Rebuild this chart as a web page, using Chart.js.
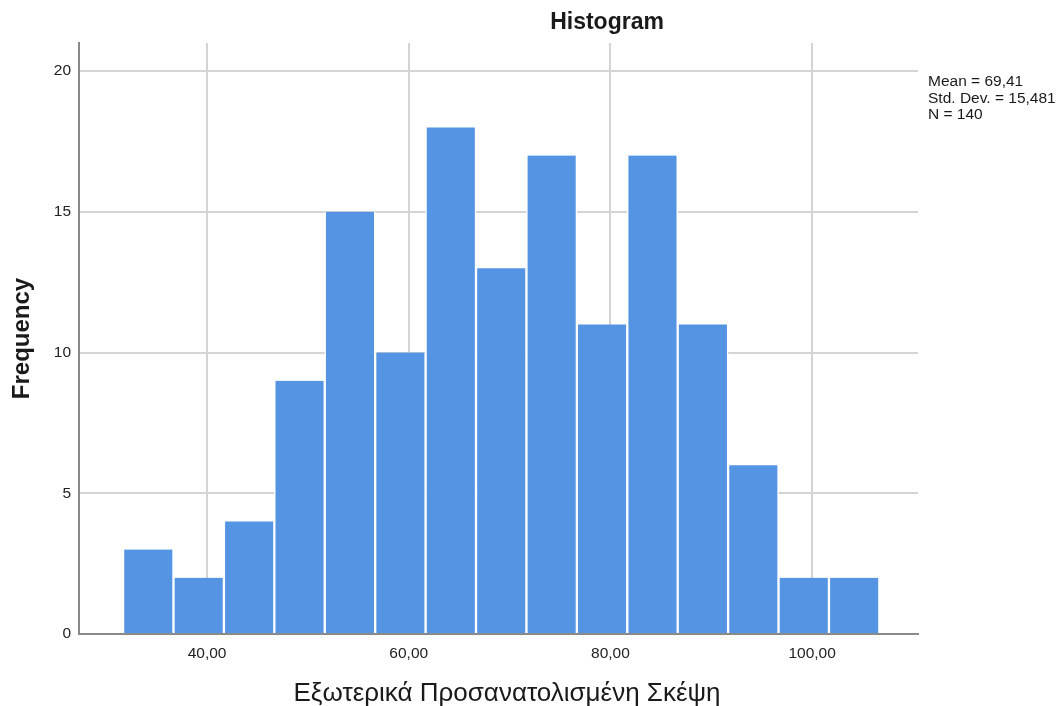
<!DOCTYPE html>
<html>
<head>
<meta charset="utf-8">
<script src="https://cdn.jsdelivr.net/npm/chart.js"></script>
<style>
  body { margin: 0; background: #ffffff; }
</style>
</head>
<body>
<canvas id="histChart" width="1059" height="706"></canvas>
<script>
// Histogram data (bin centres, bin width 5)
const binCenters = [34.17, 39.17, 44.17, 49.17, 54.17, 59.17, 64.17, 69.17, 74.17, 79.17, 84.17, 89.17, 94.17, 99.17, 104.17];
const frequencies = [3, 2, 4, 9, 15, 10, 18, 13, 17, 11, 17, 11, 6, 2, 2];
const xTicks = [40, 60, 80, 100];
const yTicks = [0, 5, 10, 15, 20];
const statsLines = ["Mean = 69,41", "Std. Dev. = 15,481", "N = 140"];
const xTitle = "Εξωτερικά Προσανατολισμένη Σκέψη";

const fontFamily = "'Liberation Sans', Arial, sans-serif";

// title, x title and stats box, placed like SPSS does
const spssText = {
  id: "spssText",
  afterDraw(chart) {
    const c = chart.ctx;
    c.save();
    c.fillStyle = "#1a1a1a";
    c.textAlign = "center";
    c.textBaseline = "middle";
    c.font = "bold 23px " + fontFamily;
    c.fillText("Histogram", 607, 23);
    c.font = "26px " + fontFamily;
    c.fillText(xTitle, 507, 694);
    c.textAlign = "left";
    c.font = "15.5px " + fontFamily;
    for (let i = 0; i < statsLines.length; i++) {
      c.fillText(statsLines[i], 928, 82 + i * 16.5);
    }
    c.restore();
  },
};

new Chart(document.getElementById("histChart"), {
  type: "bar",
  data: {
    datasets: [
      {
        data: binCenters.map((x, i) => ({ x: x, y: frequencies[i] })),
        backgroundColor: "#5494e3",
        borderColor: "#ffffff",
        borderWidth: { left: 1.5, right: 1.5, top: 0, bottom: 0 },
        borderSkipped: false,
        barPercentage: 1,
        categoryPercentage: 1,
      },
    ],
  },
  options: {
    responsive: false,
    animation: false,
    layout: {
      padding: { top: 43, right: 141, left: 0, bottom: 0 },
    },
    plugins: {
      legend: { display: false },
      tooltip: { enabled: false },
    },
    scales: {
      x: {
        type: "linear",
        offset: false,
        min: 27.3,
        max: 110.5,
        afterBuildTicks: (scale) => {
          scale.ticks = xTicks.map((v) => ({ value: v }));
        },
        afterFit: (scale) => {
          scale.height = 72;
        },
        grid: {
          offset: false,
          color: "#d4d4d4",
          lineWidth: 2,
          drawTicks: false,
        },
        border: { color: "#8a8a8a", width: 2 },
        ticks: {
          padding: 10,
          color: "#222",
          font: { family: fontFamily, size: 15.5 },
          callback: (v) => v.toFixed(2).replace(".", ","),
        },
      },
      y: {
        min: 0,
        max: 21,
        afterBuildTicks: (scale) => {
          scale.ticks = yTicks.map((v) => ({ value: v }));
        },
        afterFit: (scale) => {
          scale.width = 79;
        },
        grid: {
          color: "#d4d4d4",
          lineWidth: 2,
          drawTicks: false,
        },
        border: { color: "#8a8a8a", width: 2 },
        ticks: {
          padding: 8,
          color: "#222",
          font: { family: fontFamily, size: 15.5 },
        },
        title: {
          display: true,
          text: "Frequency",
          color: "#1a1a1a",
          font: { family: fontFamily, size: 24, weight: "bold", lineHeight: 1 },
          padding: { top: 10, bottom: 0 },
        },
      },
    },
  },
  plugins: [spssText],
});
</script>
</body>
</html>
